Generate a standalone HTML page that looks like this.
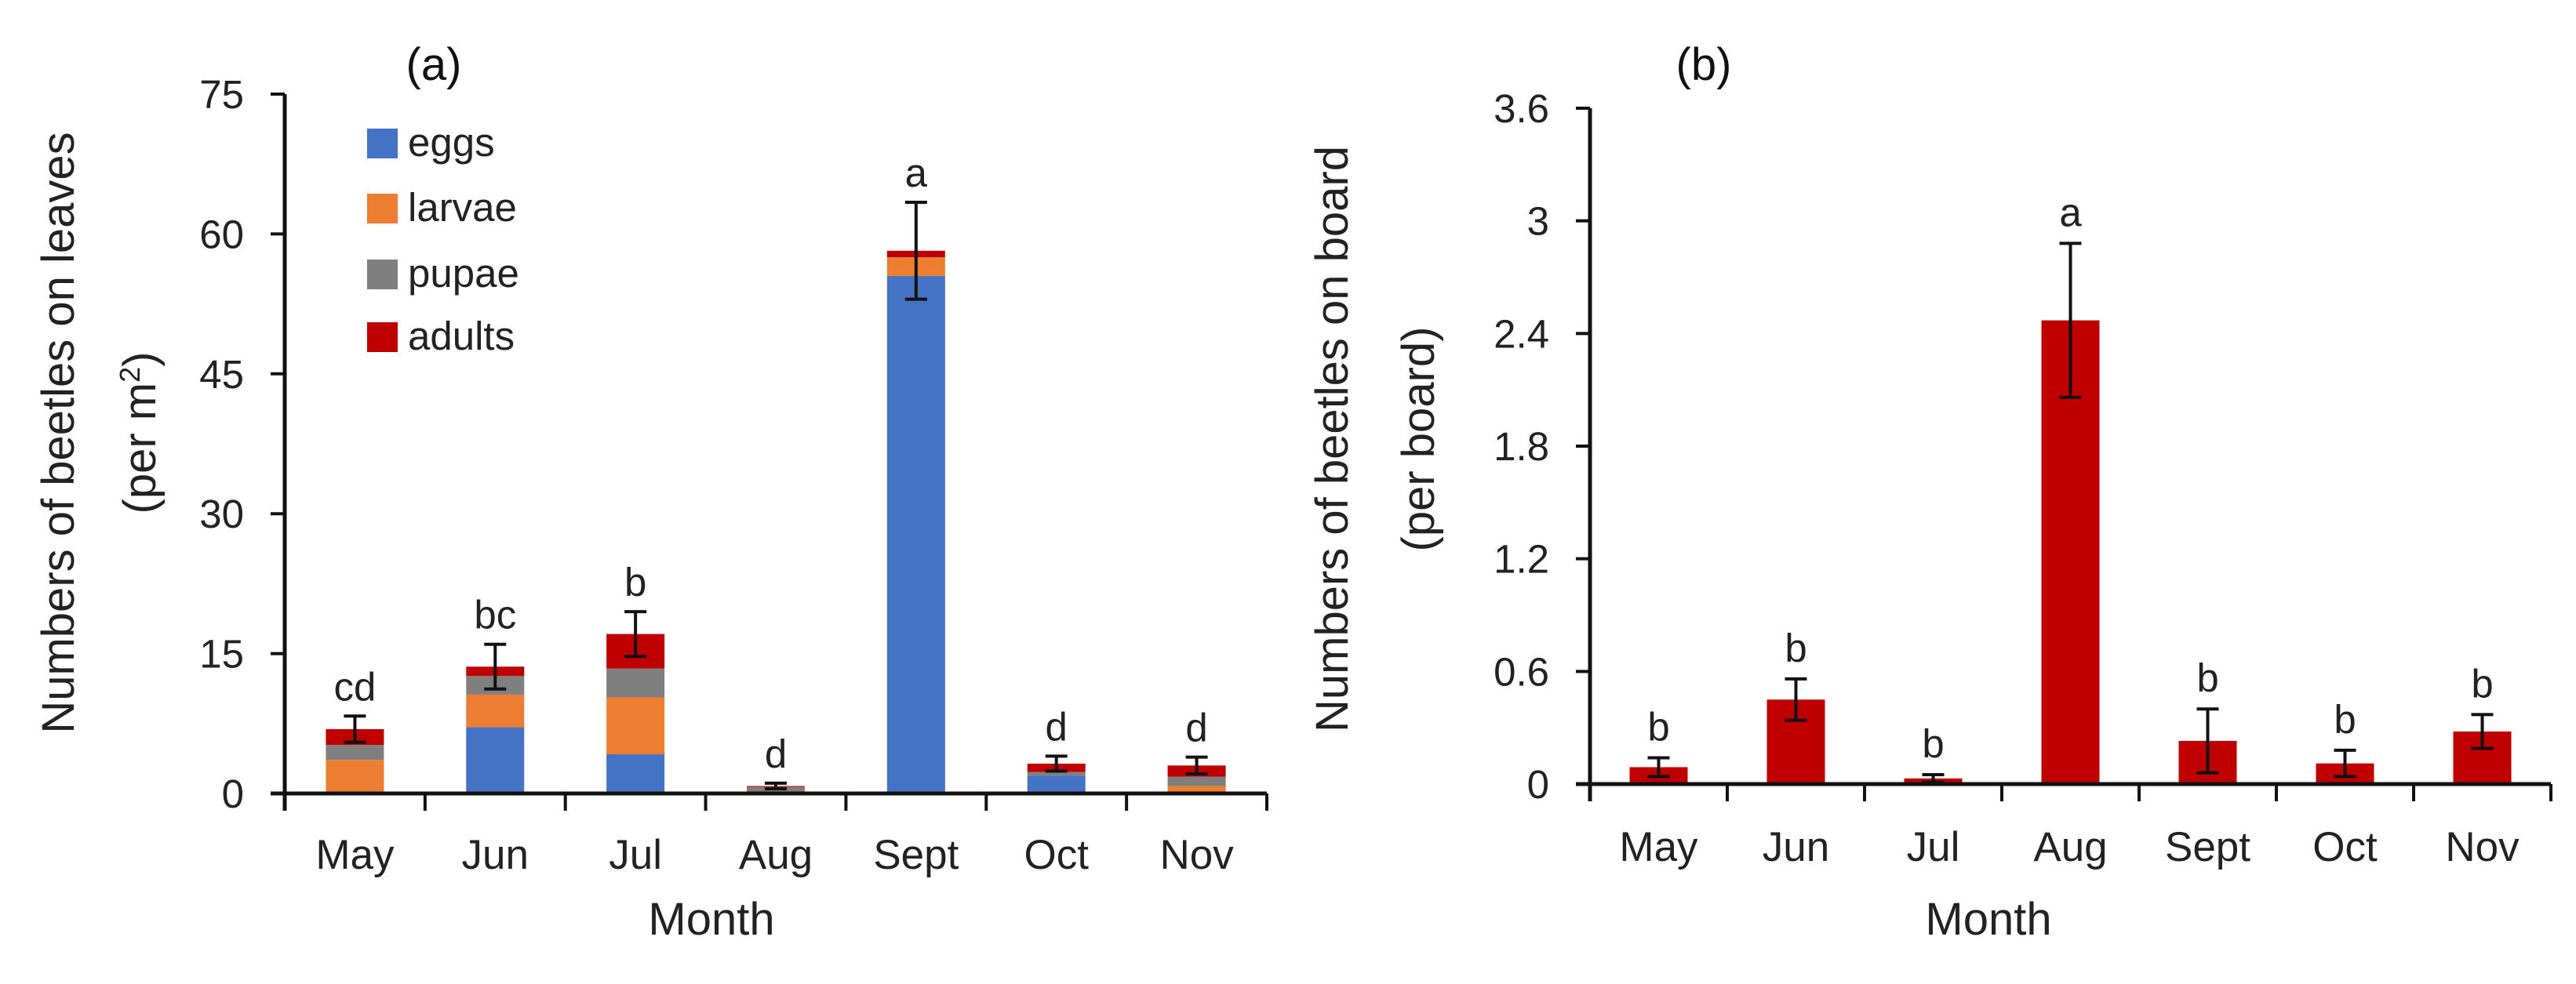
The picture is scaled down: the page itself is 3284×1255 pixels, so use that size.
<!DOCTYPE html>
<html><head><meta charset="utf-8"><style>
html,body{margin:0;padding:0;background:#fff}
svg{display:block;font-family:"Liberation Sans",Arial,sans-serif}
</style></head><body>
<svg id="fig" width="3284" height="1255" viewBox="0 0 3284 1255" xmlns="http://www.w3.org/2000/svg">
<rect width="3284" height="1255" fill="#fff"/>
<g id="pa"></g>
<g id="pb"></g>
</svg>
<script>
const months = ["May","Jun","Jul","Aug","Sept","Oct","Nov"];
const eggs   = [0, 7.1, 4.2, 0, 55.5, 1.9, 0];
const larvae = [3.6, 3.5, 6.1, 0, 2.0, 0, 0.8];
const pupae  = [1.6, 2.0, 3.1, 0.7, 0, 0.4, 1.0];
const adults = [1.7, 1.0, 3.7, 0.1, 0.7, 0.9, 1.2];
const errA   = [1.4, 2.4, 2.4, 0.3, 5.2, 0.8, 0.9];
const lettersA = ["cd","bc","b","d","a","d","d"];
const ticksA = [0,15,30,45,60,75];
const board  = [0.09, 0.45, 0.03, 2.47, 0.23, 0.11, 0.28];
const errB   = [0.05, 0.11, 0.02, 0.41, 0.17, 0.07, 0.09];
const lettersB = ["b","b","b","a","b","b","b"];
const ticksB = [0,0.6,1.2,1.8,2.4,3,3.6];
const tickLabelsB = ["0","0.6","1.2","1.8","2.4","3","3.6"];
const seriesNames = ["eggs","larvae","pupae","adults"];
const colors = ["#4472C4","#ED7D31","#7F7F7F","#C00000"];

const NS="http://www.w3.org/2000/svg";
function mk(parent,tag,attrs,text){const e=document.createElementNS(NS,tag);for(const k in attrs)e.setAttribute(k,attrs[k]);if(text!==undefined)e.textContent=text;parent.appendChild(e);return e;}

function panel(g,cfg){
  const {x0,x1,y0,y1,max,ticks,labels}=cfg;
  const n=months.length, step=(x1-x0)/n;
  const Y=v=>y0-(v/max)*(y0-y1);
  const X=i=>x0+step*(i+0.5);
  cfg.draw(X,Y,step);
  let e=mk(g,"line",{x1:x0,y1:y1,x2:x0,y2:y0+22,stroke:"#111","stroke-width":5});
  
  
  e=mk(g,"line",{x1:x0-18,y1:y0,x2:x1,y2:y0,stroke:"#111","stroke-width":5});
  
  
  ticks.forEach((t,i)=>{
    mk(g,"line",{x1:x0-18,y1:Y(t),x2:x0,y2:Y(t),stroke:"#111","stroke-width":4});
    const tl=mk(g,"text",{x:x0-52,y:Y(t)+18,"text-anchor":"end","font-size":51,fill:"#222"},labels[i]);
    
    
  });
  for(let i=1;i<=n;i++){mk(g,"line",{x1:x0+step*i,y1:y0,x2:x0+step*i,y2:y0+22,stroke:"#111","stroke-width":4});}
  months.forEach((m,i)=>{
    const t=mk(g,"text",{x:X(i),y:cfg.labY,"text-anchor":"middle","font-size":53,fill:"#222"},m);
    
    
  });
  return {X,Y};
}
function errbar(g,x,yt,yb){
  mk(g,"line",{x1:x,y1:yt,x2:x,y2:yb,stroke:"#111","stroke-width":4});
  mk(g,"line",{x1:x-14,y1:yt,x2:x+14,y2:yt,stroke:"#111","stroke-width":4});
  mk(g,"line",{x1:x-14,y1:yb,x2:x+14,y2:yb,stroke:"#111","stroke-width":4});
}

// Panel A
const ga=document.getElementById('pa');
panel(ga,{x0:363,x1:1615,y0:1012,y1:120,max:75,ticks:ticksA,labels:ticksA.map(String),labY:1108,
 draw:(X,Y,step)=>{
  const ser=[eggs,larvae,pupae,adults];
  months.forEach((m,i)=>{
    let base=0;
    ser.forEach((s,k)=>{
      if(s[i]>0){
        const r=mk(ga,"rect",{x:X(i)-37,y:Y(base+s[i]),width:74,height:Y(base)-Y(base+s[i]),fill:colors[k]});
        
        
      }
      base+=s[i];
    });
    const lo=Math.max(0,base-errA[i]);
    errbar(ga,X(i),Y(base+errA[i]),Y(lo));
    const t=mk(ga,"text",{x:X(i),y:Y(base+errA[i])-20,"text-anchor":"middle","font-size":51,fill:"#222"},lettersA[i]);
    
    
  });
 }});
seriesNames.forEach((s,k)=>{
  const y=[183,266,350,430][k];
  const r=mk(ga,"rect",{x:468,y:y-19,width:39,height:38,fill:colors[k]});
  
  
  const t=mk(ga,"text",{x:520,y:y+16,"font-size":51,fill:"#222"},s);
  
  
});
let t;
t=mk(ga,"text",{x:553,y:102,"text-anchor":"middle","font-size":58,fill:"#111"},"(a)");

t=mk(ga,"text",{x:907,y:1192,"text-anchor":"middle","font-size":58,fill:"#222"},"Month");

t=mk(ga,"text",{transform:"translate(94,552) rotate(-90)","text-anchor":"middle","font-size":58,fill:"#222"},"Numbers of beetles on leaves");

t=mk(ga,"text",{transform:"translate(198,552) rotate(-90)","text-anchor":"middle","font-size":58,fill:"#222"});

t.innerHTML='(per m<tspan dy="-20" font-size="36">2</tspan><tspan dy="20">)</tspan>';

// Panel B
const gb=document.getElementById('pb');
panel(gb,{x0:2027,x1:3252,y0:1000,y1:138,max:3.6,ticks:ticksB,labels:tickLabelsB,labY:1098,
 draw:(X,Y,step)=>{
  months.forEach((m,i)=>{
    const r=mk(gb,"rect",{x:X(i)-37,y:Y(board[i]),width:74,height:Y(0)-Y(board[i]),fill:"#C00000"});
    
    
    errbar(gb,X(i),Y(board[i]+errB[i]),Y(Math.max(0,board[i]-errB[i])));
    const t=mk(gb,"text",{x:X(i),y:Y(board[i]+errB[i])-22,"text-anchor":"middle","font-size":51,fill:"#222"},lettersB[i]);
    
    
  });
 }});
t=mk(gb,"text",{x:2172,y:102,"text-anchor":"middle","font-size":58,fill:"#111"},"(b)");

t=mk(gb,"text",{x:2535,y:1192,"text-anchor":"middle","font-size":58,fill:"#222"},"Month");

t=mk(gb,"text",{transform:"translate(1718,560) rotate(-90)","text-anchor":"middle","font-size":58,fill:"#222"},"Numbers of beetles on board");

t=mk(gb,"text",{transform:"translate(1828,560) rotate(-90)","text-anchor":"middle","font-size":58,fill:"#222"},"(per board)");

</script>
</body></html>
